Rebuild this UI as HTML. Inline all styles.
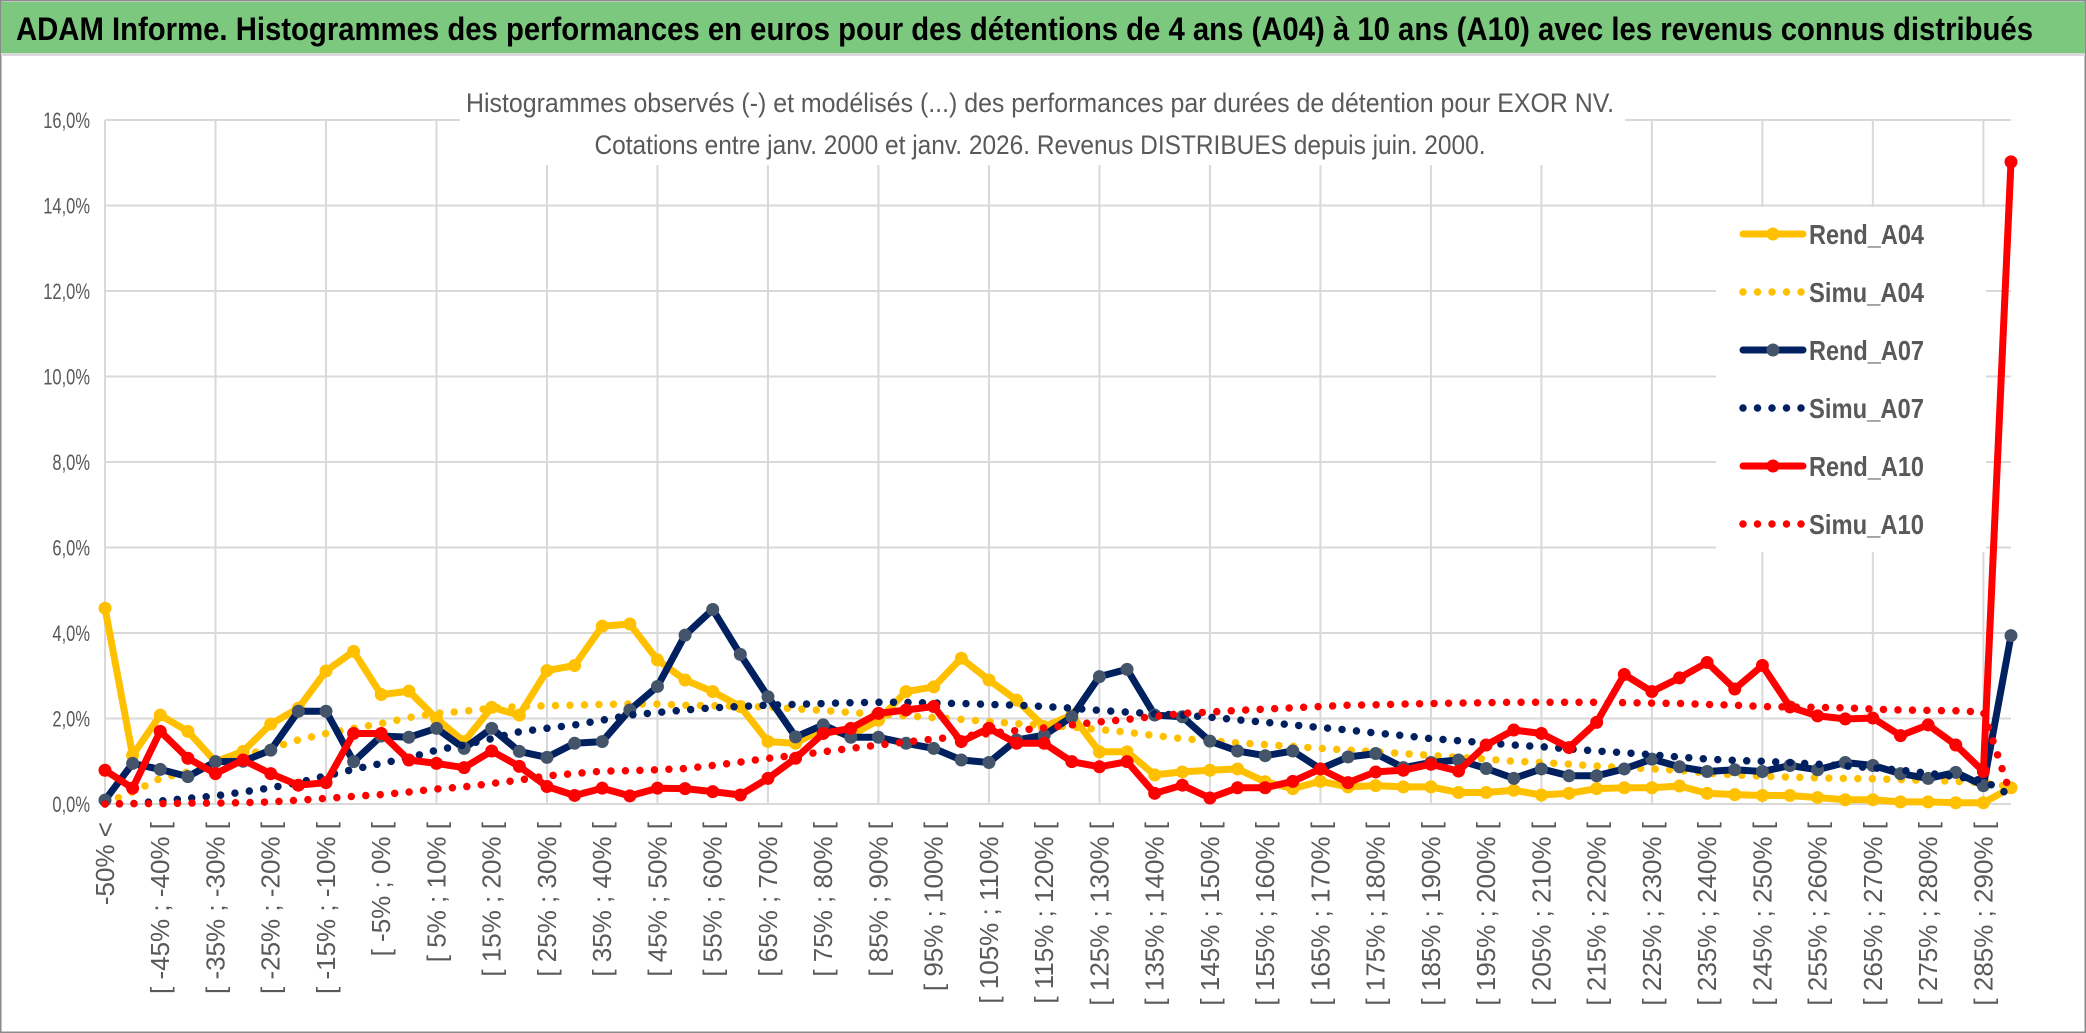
<!DOCTYPE html>
<html><head><meta charset="utf-8">
<style>
html,body{margin:0;padding:0;background:#fff;}
svg{display:block;font-family:"Liberation Sans",sans-serif;}
</style></head>
<body>
<svg id="chart" width="2086" height="1033" viewBox="0 0 2086 1033" xmlns="http://www.w3.org/2000/svg">
<rect x="0" y="0" width="2086" height="1033" fill="#fff"/>
<rect x="0.5" y="0.5" width="2085" height="1032" fill="none" stroke="#8a8a8a" stroke-width="2"/>
<rect x="1" y="2" width="2084" height="51" fill="#7cc87f"/>
<rect x="1" y="53" width="2084" height="3" fill="#d9d9d9"/>
<text x="16" y="40" font-size="32" font-weight="bold" fill="#000" textLength="2017" lengthAdjust="spacingAndGlyphs">ADAM Informe. Histogrammes des performances en euros pour des détentions de 4 ans (A04) à 10 ans (A10) avec les revenus connus distribués</text>
<g id="grid"></g>
<g id="yaxis"></g>
<g id="xaxis"></g>
<rect x="460" y="82" width="1165" height="83" fill="#fff"/>
<text x="1040" y="112" font-size="27" fill="#595959" text-anchor="middle" textLength="1148" lengthAdjust="spacingAndGlyphs">Histogrammes observés (-) et modélisés (...) des performances par durées de détention pour EXOR NV.</text>
<text x="1040" y="154" font-size="27" fill="#595959" text-anchor="middle" textLength="891" lengthAdjust="spacingAndGlyphs">Cotations entre janv. 2000 et janv. 2026. Revenus DISTRIBUES depuis juin. 2000.</text>
<rect x="1716" y="207" width="270" height="345" fill="#fff"/>
<g id="series"></g>
<g id="legend"></g>
</svg>
<script>
const categories = ["-50% <","[ -50% ; -45% [","[ -45% ; -40% [","[ -40% ; -35% [","[ -35% ; -30% [","[ -30% ; -25% [","[ -25% ; -20% [","[ -20% ; -15% [","[ -15% ; -10% [","[ -10% ; -5% [","[ -5% ; 0% [","[ 0% ; 5% [","[ 5% ; 10% [","[ 10% ; 15% [","[ 15% ; 20% [","[ 20% ; 25% [","[ 25% ; 30% [","[ 30% ; 35% [","[ 35% ; 40% [","[ 40% ; 45% [","[ 45% ; 50% [","[ 50% ; 55% [","[ 55% ; 60% [","[ 60% ; 65% [","[ 65% ; 70% [","[ 70% ; 75% [","[ 75% ; 80% [","[ 80% ; 85% [","[ 85% ; 90% [","[ 90% ; 95% [","[ 95% ; 100% [","[ 100% ; 105% [","[ 105% ; 110% [","[ 110% ; 115% [","[ 115% ; 120% [","[ 120% ; 125% [","[ 125% ; 130% [","[ 130% ; 135% [","[ 135% ; 140% [","[ 140% ; 145% [","[ 145% ; 150% [","[ 150% ; 155% [","[ 155% ; 160% [","[ 160% ; 165% [","[ 165% ; 170% [","[ 170% ; 175% [","[ 175% ; 180% [","[ 180% ; 185% [","[ 185% ; 190% [","[ 190% ; 195% [","[ 195% ; 200% [","[ 200% ; 205% [","[ 205% ; 210% [","[ 210% ; 215% [","[ 215% ; 220% [","[ 220% ; 225% [","[ 225% ; 230% [","[ 230% ; 235% [","[ 235% ; 240% [","[ 240% ; 245% [","[ 245% ; 250% [","[ 250% ; 255% [","[ 255% ; 260% [","[ 260% ; 265% [","[ 265% ; 270% [","[ 270% ; 275% [","[ 275% ; 280% [","[ 280% ; 285% [","[ 285% ; 290% [","> 290%"];
const yTicks = [0,2,4,6,8,10,12,14,16];
const yTickLabels = ["0,0%","2,0%","4,0%","6,0%","8,0%","10,0%","12,0%","14,0%","16,0%"];
const rendA04 = [4.58,1.14,2.08,1.70,0.99,1.23,1.87,2.24,3.11,3.57,2.56,2.64,2.0,1.46,2.26,2.08,3.12,3.24,4.16,4.21,3.37,
2.9,2.63,2.28,1.46,1.42,1.77,1.6,1.96,2.63,2.74,3.41,2.9,2.43,1.81,2.08,1.22,1.22,0.68,0.75,
0.79,0.82,0.52,0.36,0.53,0.4,0.43,0.4,0.4,0.27,0.27,0.32,0.21,0.25,0.36,0.38,0.38,0.42,
0.25,0.22,0.2,0.2,0.15,0.1,0.1,0.05,0.05,0.03,0.03,0.38];
const simuA04 = [0.02,0.28,0.6,0.75,0.95,1.14,1.3,1.5,1.65,1.77,1.88,2.02,2.12,2.17,2.24,2.28,2.3,2.31,2.33,2.34,2.34,
2.31,2.3,2.29,2.27,2.23,2.19,2.14,2.1,2.06,2.02,1.98,1.93,1.88,1.84,1.8,1.74,1.68,1.6,1.53,
1.48,1.43,1.39,1.35,1.3,1.26,1.22,1.18,1.14,1.09,1.05,1.0,0.97,0.93,0.89,0.85,0.82,0.79,
0.72,0.68,0.65,0.63,0.61,0.6,0.59,0.57,0.55,0.53,0.5,0.4];
const rendA07 = [0.09,0.95,0.81,0.64,0.99,1.0,1.26,2.17,2.17,0.99,1.59,1.56,1.77,1.3,1.77,1.23,1.09,1.42,1.46,2.2,2.75,
3.95,4.55,3.5,2.51,1.57,1.85,1.56,1.56,1.42,1.3,1.03,0.97,1.5,1.61,2.04,2.98,3.15,2.08,2.04,
1.47,1.24,1.13,1.24,0.82,1.1,1.18,0.85,0.97,1.03,0.83,0.6,0.82,0.66,0.66,0.82,1.05,0.87,
0.76,0.8,0.76,0.9,0.8,0.97,0.9,0.71,0.6,0.74,0.43,3.94];
const simuA07 = [0.0,0.01,0.07,0.13,0.19,0.28,0.38,0.5,0.66,0.81,0.95,1.08,1.26,1.38,1.53,1.69,1.77,1.85,1.96,2.08,2.14,
2.2,2.25,2.28,2.31,2.33,2.35,2.37,2.38,2.38,2.36,2.35,2.33,2.31,2.28,2.24,2.19,2.15,2.11,2.08,
2.03,1.97,1.91,1.85,1.79,1.73,1.66,1.6,1.53,1.48,1.43,1.38,1.34,1.29,1.24,1.2,1.15,1.1,
1.05,1.02,1.0,0.97,0.93,0.89,0.85,0.79,0.72,0.64,0.55,0.2];
const rendA10 = [0.79,0.37,1.70,1.07,0.71,1.03,0.71,0.44,0.5,1.65,1.65,1.03,0.95,0.85,1.24,0.88,0.41,0.2,0.37,0.19,0.37,
0.36,0.29,0.21,0.6,1.07,1.65,1.77,2.12,2.2,2.28,1.46,1.77,1.42,1.42,0.99,0.87,0.99,0.25,0.44,
0.14,0.38,0.38,0.53,0.82,0.5,0.75,0.79,0.93,0.77,1.38,1.73,1.65,1.32,1.91,3.03,2.63,2.95,
3.31,2.69,3.24,2.27,2.06,1.99,2.01,1.6,1.85,1.38,0.76,15.02];
const simuA10 = [0.0,0.01,0.01,0.02,0.02,0.03,0.05,0.09,0.13,0.18,0.22,0.28,0.35,0.4,0.48,0.56,0.66,0.71,0.77,0.78,0.8,
0.83,0.9,0.98,1.07,1.14,1.22,1.3,1.38,1.45,1.52,1.58,1.65,1.72,1.78,1.85,1.92,1.98,2.05,2.12,
2.15,2.19,2.22,2.25,2.28,2.31,2.32,2.34,2.35,2.36,2.37,2.38,2.38,2.38,2.38,2.37,2.36,2.35,
2.33,2.31,2.28,2.27,2.26,2.25,2.22,2.2,2.19,2.18,2.15,0.2];
const seriesNames = ["Rend_A04","Simu_A04","Rend_A07","Simu_A07","Rend_A10","Simu_A10"];

const NS = "http://www.w3.org/2000/svg";
const X0 = 105, X1 = 2011, Y0 = 804, Y16 = 120;
function xScale(i){ return X0 + i * (X1 - X0) / (categories.length - 1); }
function yScale(v){ return Y0 - v * (Y0 - Y16) / 16; }
function mk(tag, attrs, parent){ const e = document.createElementNS(NS, tag); for (const k in attrs) e.setAttribute(k, attrs[k]); parent.appendChild(e); return e; }

const grid = document.getElementById('grid');
yTicks.forEach((t) => {
  const l = mk('line', {x1: X0, x2: X1, y1: yScale(t), y2: yScale(t), stroke: '#d9d9d9', 'stroke-width': 2}, grid);
  
  
});
for (let i = 0; i < categories.length; i += 4) {
  const l = mk('line', {x1: xScale(i), x2: xScale(i), y1: Y16, y2: Y0, stroke: '#d9d9d9', 'stroke-width': 2}, grid);
  
  
}
const yaxis = document.getElementById('yaxis');
yTicks.forEach((t, k) => {
  const yy = yScale(t) + 8;
  const tx = mk('text', {x: 0, y: 0, 'font-size': 22, fill: '#595959', 'text-anchor': 'end', transform: 'translate(90 ' + yy + ') scale(0.75 1)'}, yaxis);
  tx.textContent = yTickLabels[k];
  
  
});
const xaxis = document.getElementById('xaxis');
categories.forEach((c, i) => {
  if (i % 2 !== 0 || i > 68) return;
  const x = xScale(i) + 9, y = 822;
  const tx = mk('text', {x: x, y: y, 'font-size': 26, fill: '#595959', 'text-anchor': 'end', transform: 'rotate(-90 ' + x + ' ' + y + ')'}, xaxis);
  tx.textContent = c;
  
  
});

const seriesLayer = document.getElementById('series');
function drawRend(vals, color, markerColor, name){
  const g = mk('g', {}, seriesLayer);
  
  
  const pts = vals.map((v, i) => xScale(i).toFixed(1) + ',' + yScale(v).toFixed(1)).join(' ');
  const pl = mk('polyline', {points: pts, fill: 'none', stroke: color, 'stroke-width': 7, 'stroke-linejoin': 'round'}, g);
  
  
  vals.forEach((v, i) => {
    const c = mk('circle', {cx: xScale(i), cy: yScale(v), r: 6.5, fill: markerColor}, g);
    
    
  });
}
function drawSimu(vals, color, name){
  const pts = vals.map((v, i) => xScale(i).toFixed(1) + ',' + yScale(v).toFixed(1)).join(' ');
  const pl = mk('polyline', {points: pts, fill: 'none', stroke: color, 'stroke-width': 7.5, 'stroke-linecap': 'round', 'stroke-dasharray': '0 14.5'}, seriesLayer);
  
  
}
drawRend(rendA04, '#ffc000', '#ffc000', 'rend-a04');
drawSimu(simuA04, '#ffc000', 'simu-a04');
drawRend(rendA07, '#002060', '#44546a', 'rend-a07');
drawSimu(simuA07, '#002060', 'simu-a07');
drawRend(rendA10, '#ff0000', '#ff0000', 'rend-a10');
drawSimu(simuA10, '#ff0000', 'simu-a10');

const legend = document.getElementById('legend');
const legendColors = ['#ffc000','#ffc000','#002060','#002060','#ff0000','#ff0000'];
const legendMarkers = ['#ffc000',null,'#44546a',null,'#ff0000',null];
seriesNames.forEach((n, k) => {
  const y = 234 + k * 58;
  const g = mk('g', {}, legend);
  
  
  if (k % 2 === 0) {
    mk('line', {x1: 1743, x2: 1803, y1: y, y2: y, stroke: legendColors[k], 'stroke-width': 7, 'stroke-linecap': 'round'}, g);
    mk('circle', {cx: 1773, cy: y, r: 6.5, fill: legendMarkers[k]}, g);
  } else {
    mk('line', {x1: 1743, x2: 1803, y1: y, y2: y, stroke: legendColors[k], 'stroke-width': 7.5, 'stroke-linecap': 'round', 'stroke-dasharray': '0 14.5'}, g);
  }
  const t = mk('text', {x: 1809, y: y + 10, 'font-size': 28, 'font-weight': 'bold', fill: '#595959', textLength: 115, lengthAdjust: 'spacingAndGlyphs'}, g);
  t.textContent = n;
});
</script>
</body></html>
